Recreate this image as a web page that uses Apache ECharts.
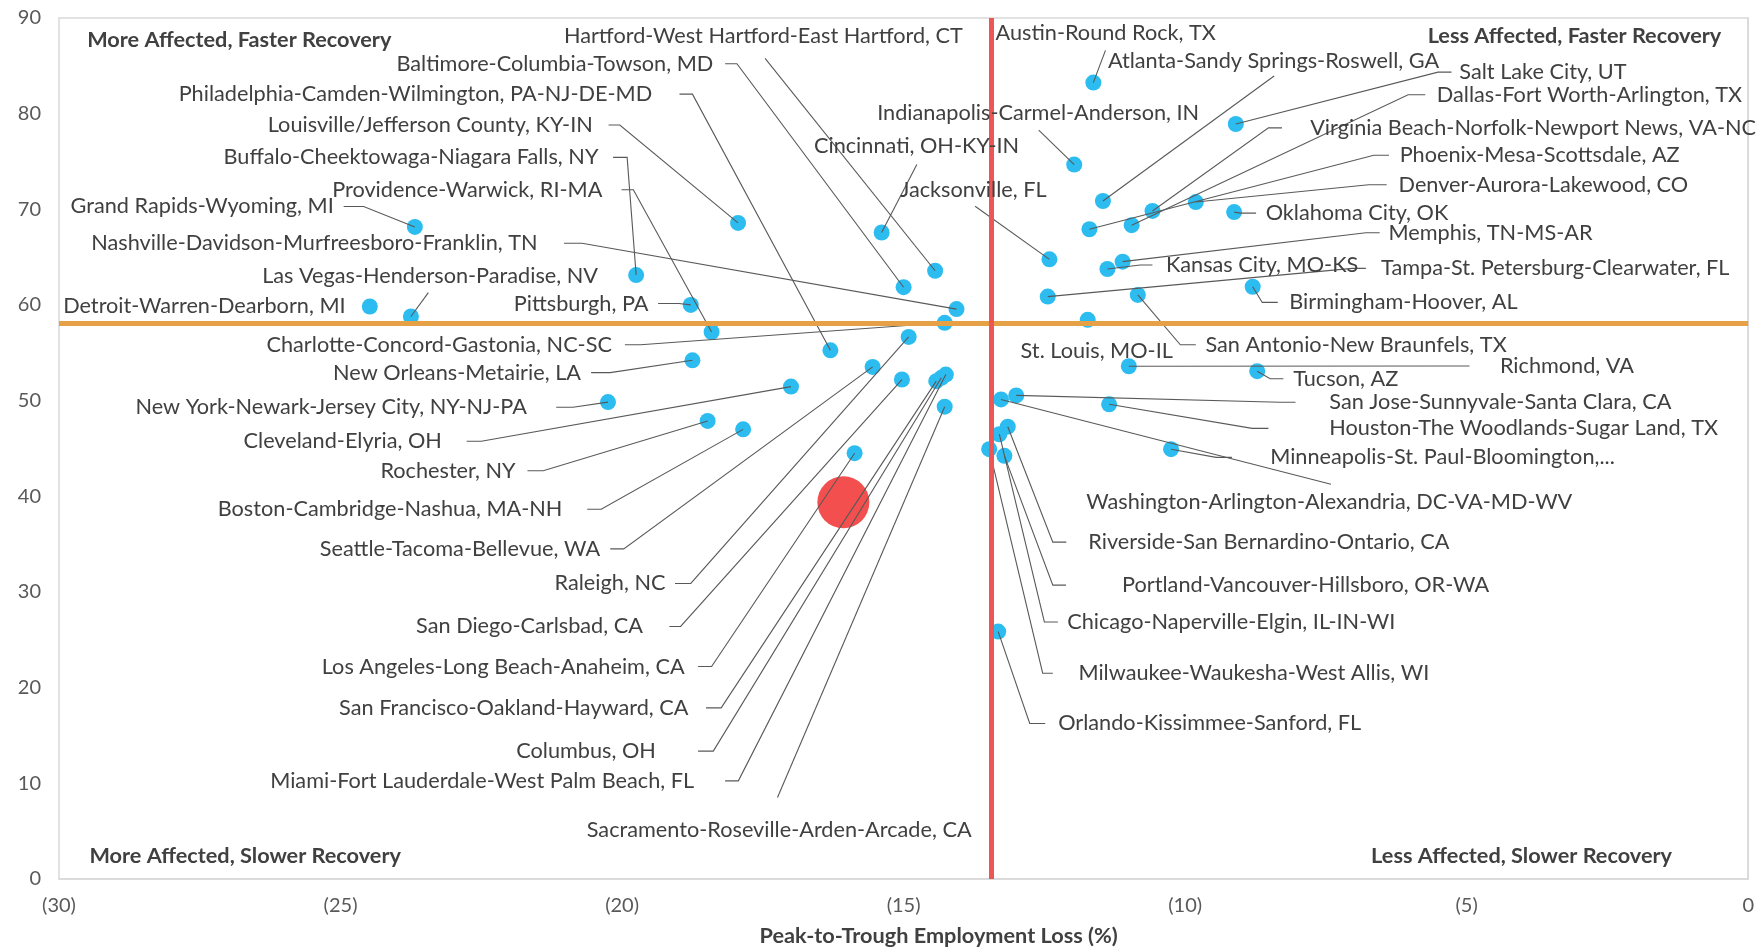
<!DOCTYPE html>
<html>
<head>
<meta charset="utf-8">
<script src="https://cdn.jsdelivr.net/npm/echarts/dist/echarts.min.js"></script>
<style>
html,body{margin:0;padding:0;background:#ffffff;overflow:hidden;width:100%;height:100%;}
#chart{width:100vw;height:100vh;}
</style>
</head>
<body>
<div id="chart"></div>
<script>
// ---------------- DATA ----------------
const cities = [
  'Hartford-West Hartford-East Hartford, CT',
  'Baltimore-Columbia-Towson, MD',
  'Philadelphia-Camden-Wilmington, PA-NJ-DE-MD',
  'Louisville/Jefferson County, KY-IN',
  'Buffalo-Cheektowaga-Niagara Falls, NY',
  'Providence-Warwick, RI-MA',
  'Grand Rapids-Wyoming, MI',
  'Nashville-Davidson-Murfreesboro-Franklin, TN',
  'Las Vegas-Henderson-Paradise, NV',
  'Detroit-Warren-Dearborn, MI',
  'Pittsburgh, PA',
  'Cincinnati, OH-KY-IN',
  'Jacksonville, FL',
  'Charlotte-Concord-Gastonia, NC-SC',
  'New Orleans-Metairie, LA',
  'New York-Newark-Jersey City, NY-NJ-PA',
  'Cleveland-Elyria, OH',
  'Rochester, NY',
  'Boston-Cambridge-Nashua, MA-NH',
  'Seattle-Tacoma-Bellevue, WA',
  'Raleigh, NC',
  'San Diego-Carlsbad, CA',
  'Los Angeles-Long Beach-Anaheim, CA',
  'San Francisco-Oakland-Hayward, CA',
  'Columbus, OH',
  'Miami-Fort Lauderdale-West Palm Beach, FL',
  'Sacramento-Roseville-Arden-Arcade, CA',
  'Austin-Round Rock, TX',
  'Atlanta-Sandy Springs-Roswell, GA',
  'Indianapolis-Carmel-Anderson, IN',
  'Salt Lake City, UT',
  'Dallas-Fort Worth-Arlington, TX',
  'Virginia Beach-Norfolk-Newport News, VA-NC',
  'Phoenix-Mesa-Scottsdale, AZ',
  'Denver-Aurora-Lakewood, CO',
  'Oklahoma City, OK',
  'Memphis, TN-MS-AR',
  'Kansas City, MO-KS',
  'Tampa-St. Petersburg-Clearwater, FL',
  'Birmingham-Hoover, AL',
  'San Antonio-New Braunfels, TX',
  'St. Louis, MO-IL',
  'Richmond, VA',
  'Tucson, AZ',
  'San Jose-Sunnyvale-Santa Clara, CA',
  'Houston-The Woodlands-Sugar Land, TX',
  'Minneapolis-St. Paul-Bloomington,...',
  'Washington-Arlington-Alexandria, DC-VA-MD-WV',
  'Riverside-San Bernardino-Ontario, CA',
  'Portland-Vancouver-Hillsboro, OR-WA',
  'Chicago-Naperville-Elgin, IL-IN-WI',
  'Milwaukee-Waukesha-West Allis, WI',
  'Orlando-Kissimmee-Sanford, FL'
];
// Peak-to-trough employment loss (%)
const lossPct = [
  -14.44, -15.00, -16.30, -17.94, -19.75, -18.41, -23.68, -14.06, -23.75, -24.48,
  -18.78, -15.39, -12.41, -14.27, -18.75, -20.25, -17.00, -18.48, -17.85, -15.55,
  -14.91, -15.03, -15.87, -14.42, -14.33, -14.25, -14.27, -11.63, -11.46, -11.97,
  -9.10, -10.95, -10.58, -11.70, -9.81, -9.13, -11.11, -11.38, -12.44, -8.80,
  -10.84, -11.73, -11.00, -8.72, -13.00, -11.35, -10.25, -13.27, -13.15, -13.21,
  -13.30, -13.48, -13.32
];
// Recovery share (%)
const recoveryPct = [
  63.58, 61.86, 55.26, 68.58, 63.13, 57.18, 68.16, 59.57, 58.80, 59.84,
  60.01, 67.58, 64.77, 58.14, 54.22, 49.85, 51.47, 47.88, 47.00, 53.53,
  56.66, 52.21, 44.51, 52.04, 52.39, 52.73, 49.37, 83.25, 70.87, 74.68,
  78.92, 68.34, 69.83, 67.92, 70.76, 69.71, 64.53, 63.76, 60.88, 61.91,
  61.05, 58.45, 53.60, 53.08, 50.55, 49.62, 44.93, 50.13, 47.28, 44.23,
  46.49, 44.93, 25.86
];
const usLoss = [-16.07];
const usRecovery = [39.38];
const avgLoss = -13.45;
const avgRecovery = 58.1;
const xTicks = [-30, -25, -20, -15, -10, -5, 0];
const yTicks = [0, 10, 20, 30, 40, 50, 60, 70, 80, 90];
const quadrantNames = [
  'More Affected, Faster Recovery',
  'Less Affected, Faster Recovery',
  'More Affected, Slower Recovery',
  'Less Affected, Slower Recovery'
];
const xTitle = 'Peak-to-Trough Employment Loss (%)';

// ---------------- LAYOUT (label placement, in axis units) ----------------
// [text align, text x, text y, leader path after the point]
const labelLayout = [
  ['center', -17.49, 88.11, [[-17.46, 85.78]]],
  ['right', -18.38, 85.22, [[-17.96, 85.22], [-18.17, 85.22]]],
  ['right', -19.465, 82.04, [[-18.75, 82.04], [-18.98, 82.04]]],
  ['right', -20.52, 78.81, [[-20.04, 78.81], [-20.24, 78.81]]],
  ['right', -20.42, 75.43, [[-19.91, 75.43], [-20.16, 75.43]]],
  ['right', -20.35, 72.04, [[-19.80, 72.04], [-20.01, 72.04]]],
  ['right', -25.12, 70.30, [[-24.59, 70.30], [-24.945, 70.30]]],
  ['right', -21.50, 66.45, [[-20.71, 66.45], [-21.03, 66.45]]],
  ['center', -23.41, 63.03, [[-23.44, 61.30]]],
  ['right', -24.91, 59.86, []],
  ['right', -19.53, 60.15, [[-18.99, 60.15], [-19.36, 60.15]]],
  ['center', -14.77, 76.59, [[-14.765, 74.68]]],
  ['center', -13.76, 71.97, [[-13.73, 70.32]]],
  ['right', -20.18, 55.84, [[-19.67, 55.84], [-19.95, 55.84]]],
  ['right', -20.73, 52.93, [[-20.21, 52.93], [-20.55, 52.93]]],
  ['right', -21.69, 49.31, [[-20.87, 49.31], [-21.17, 49.31]]],
  ['right', -23.20, 45.76, [[-22.50, 45.76], [-22.76, 45.76]]],
  ['right', -21.89, 42.67, [[-21.40, 42.67], [-21.68, 42.67]]],
  ['right', -21.06, 38.65, [[-20.37, 38.65], [-20.62, 38.65]]],
  ['right', -20.39, 34.51, [[-19.97, 34.51], [-20.21, 34.51]]],
  ['right', -19.23, 30.89, [[-18.78, 30.89], [-19.06, 30.89]]],
  ['right', -19.63, 26.40, [[-18.96, 26.40], [-19.16, 26.40]]],
  ['right', -18.89, 22.21, [[-18.41, 22.21], [-18.65, 22.21]]],
  ['right', -18.82, 17.89, [[-18.24, 17.89], [-18.51, 17.89]]],
  ['right', -19.40, 13.37, [[-18.38, 13.37], [-18.65, 13.37]]],
  ['right', -18.72, 10.26, [[-17.935, 10.26], [-18.17, 10.26]]],
  ['center', -17.21, 5.11, [[-17.24, 8.51]]],
  ['center', -11.41, 88.45, [[-11.415, 86.62]]],
  ['center', -8.43, 85.51, [[-8.42, 83.94]]],
  ['center', -12.61, 80.12, [[-12.60, 78.29]]],
  ['left', -5.13, 84.34, [[-5.51, 84.34], [-5.27, 84.34]]],
  ['left', -5.53, 81.97, [[-6.04, 81.97], [-5.735, 81.97]]],
  ['left', -7.78, 78.51, [[-8.52, 78.51], [-8.28, 78.51]]],
  ['left', -6.19, 75.66, [[-6.65, 75.66], [-6.38, 75.66]]],
  ['left', -6.21, 72.57, [[-6.74, 72.57], [-6.42, 72.57]]],
  ['left', -8.57, 69.60, [[-9.01, 69.60], [-8.74, 69.60]]],
  ['left', -6.39, 67.56, [[-6.79, 67.56], [-6.545, 67.56]]],
  ['left', -10.34, 64.18, [[-10.80, 64.18], [-10.58, 64.18]]],
  ['left', -6.52, 63.83, [[-7.03, 63.83], [-6.79, 63.83]]],
  ['left', -8.15, 60.27, [[-8.63, 60.27], [-8.355, 60.27]]],
  ['left', -9.64, 55.84, [[-10.085, 55.84], [-9.81, 55.84]]],
  ['center', -11.57, 55.15, []],
  ['left', -4.41, 53.63, [[-5.23, 53.63], [-4.95, 53.63]]],
  ['left', -8.08, 52.29, [[-8.49, 52.29], [-8.255, 52.29]]],
  ['left', -7.44, 49.84, [[-8.315, 49.84], [-8.04, 49.84]]],
  ['left', -7.44, 47.10, [[-8.81, 47.10], [-8.52, 47.10]]],
  ['left', -8.49, 44.07, [[-9.45, 44.07], [-9.17, 44.07]]],
  ['center', -7.44, 39.40, [[-7.41, 41.27]]],
  ['left', -11.72, 35.21, [[-12.35, 35.21], [-12.11, 35.21]]],
  ['left', -11.12, 30.72, [[-12.35, 30.72], [-12.115, 30.72]]],
  ['left', -12.095, 26.87, [[-12.50, 26.87], [-12.26, 26.87]]],
  ['left', -11.895, 21.51, [[-12.53, 21.51], [-12.35, 21.51]]],
  ['left', -12.255, 16.26, [[-12.76, 16.26], [-12.485, 16.26]]]
];
const quadrantLayout = [
  ['left', -29.50, 87.67],
  ['right', -0.478, 88.13],
  ['left', -29.46, 2.45],
  ['right', -1.353, 2.45]
];

// ---------------- STYLE ----------------
const FONT = 'Lato, "Open Sans", sans-serif';
const TEXT_COLOR = '#404040';
const LABEL_SIZE = 21.7;

const pointData = cities.map((c, i) => [lossPct[i], recoveryPct[i], i]);

const chart = echarts.init(document.getElementById('chart'), null, {renderer: 'canvas'});
chart.setOption({
  animation: false,
  backgroundColor: '#ffffff',
  grid: {
    left: 59, right: 8, top: 18, bottom: 60,
    show: true, borderColor: '#d9d9d9', borderWidth: 1.5, containLabel: false
  },
  xAxis: {
    type: 'value', min: xTicks[0], max: xTicks[xTicks.length - 1], interval: 5,
    axisLine: {show: true, lineStyle: {color: '#d9d9d9', width: 1.5}},
    axisTick: {show: false},
    splitLine: {show: false},
    axisLabel: {
      fontFamily: FONT, fontSize: 20, color: '#595959', margin: 17,
      formatter: v => (v < 0 ? '(' + (-v) + ')' : String(v))
    },
    name: xTitle, nameLocation: 'middle', nameGap: 46,
    nameTextStyle: {fontFamily: FONT, fontSize: 21.7, fontWeight: 'bold', color: TEXT_COLOR, padding: [0, 0, 0, 70]}
  },
  yAxis: {
    type: 'value', min: yTicks[0], max: yTicks[yTicks.length - 1], interval: 10,
    axisLine: {show: true, lineStyle: {color: '#d9d9d9', width: 1.5}},
    axisTick: {show: false},
    splitLine: {show: false},
    axisLabel: {fontFamily: FONT, fontSize: 20, color: '#595959', margin: 18}
  },
  series: [
    {
      name: 'Metros', type: 'scatter', data: pointData, symbol: 'circle', symbolSize: 16,
      itemStyle: {color: '#2cbcf0', opacity: 1}, z: 2, silent: true
    },
    {
      name: 'U.S.', type: 'scatter', data: usLoss.map((v, i) => [v, usRecovery[i]]),
      symbol: 'circle', symbolSize: 52, itemStyle: {color: '#f44f4f', opacity: 1}, z: 2, silent: true
    },
    {
      name: 'leaders', type: 'custom', coordinateSystem: 'cartesian2d', clip: false, silent: true, z: 3,
      data: pointData, encode: {x: 0, y: 1},
      renderItem: function (params, api) {
        const i = api.value(2);
        const lay = labelLayout[i];
        if (!lay[3].length) return {type: 'group', children: []};
        const pts = [api.coord([api.value(0), api.value(1)])].concat(lay[3].map(q => api.coord(q)));
        return {
          type: 'polyline',
          shape: {points: pts},
          style: {stroke: '#595959', lineWidth: 1.1, fill: null}
        };
      }
    },
    {
      name: 'labels', type: 'custom', coordinateSystem: 'cartesian2d', clip: false, silent: true, z: 5,
      data: pointData, encode: {x: 0, y: 1},
      renderItem: function (params, api) {
        const i = api.value(2);
        const lay = labelLayout[i];
        const p = api.coord([lay[1], lay[2]]);
        return {
          type: 'text',
          style: {
            text: cities[i], x: p[0], y: p[1], align: lay[0], verticalAlign: 'middle',
            fontFamily: FONT, fontSize: LABEL_SIZE, fill: TEXT_COLOR
          }
        };
      }
    },
    {
      name: 'quadrants', type: 'custom', coordinateSystem: 'cartesian2d', clip: false, silent: true, z: 5,
      data: quadrantLayout.map((q, i) => [q[1], q[2], i]), encode: {x: 0, y: 1},
      renderItem: function (params, api) {
        const i = api.value(2);
        const p = api.coord([api.value(0), api.value(1)]);
        return {
          type: 'text',
          style: {
            text: quadrantNames[i], x: p[0], y: p[1], align: quadrantLayout[i][0], verticalAlign: 'middle',
            fontFamily: FONT, fontSize: 21.7, fontWeight: 'bold', fill: TEXT_COLOR
          }
        };
      }
    },
    {
      name: 'avgRecovery', type: 'line', data: [], z: 9, silent: true,
      markLine: {
        silent: true, symbol: ['none', 'none'], label: {show: false}, animation: false,
        lineStyle: {color: '#e6a045', width: 5, type: 'solid'},
        data: [{yAxis: avgRecovery}]
      }
    },
    {
      name: 'avgLoss', type: 'line', data: [], z: 10, silent: true,
      markLine: {
        silent: true, symbol: ['none', 'none'], label: {show: false}, animation: false,
        lineStyle: {color: '#ee5555', width: 5, type: 'solid'},
        data: [{xAxis: avgLoss}]
      }
    }
  ]
});
</script>
</body>
</html>
